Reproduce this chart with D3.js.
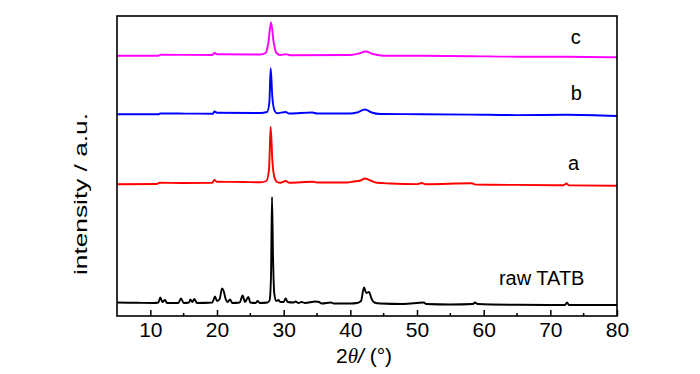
<!DOCTYPE html>
<html>
<head>
<meta charset="utf-8">
<script src="https://cdn.jsdelivr.net/npm/d3@7"></script>
<style>
  body { margin: 0; background: #fff; }
  text { font-family: "Liberation Sans", Arial, sans-serif; }
</style>
</head>
<body>
<svg id="chart" width="700" height="374"></svg>
<script>
// 2theta (deg), intensity (a.u.), one array per pattern
const rawTATB = [
    [5, 13.5], [8, 13.2], [10.5, 13], [11.2, 13.5], [11.5, 18.5], [11.8, 14], [12.2, 16], [12.5, 13],
    [14.2, 13], [14.6, 17.5], [15.0, 13], [15.8, 13.5], [16.0, 16.5], [16.3, 14], [16.6, 17], [17.0, 13],
    [19.3, 13.5], [19.7, 19.5], [20.0, 15], [20.4, 17], [20.75, 27.5], [21.0, 25], [21.3, 17], [21.6, 14],
    [21.95, 16.5], [22.3, 13], [23.4, 13.5], [23.85, 20.5], [24.2, 14], [24.7, 19], [25.0, 13.5],
    [25.8, 13], [26.1, 15], [26.4, 13], [27.6, 13.5], [27.9, 16], [28.1, 40], [28.25, 119], [28.4, 60],
    [28.6, 22], [28.9, 15], [29.2, 16], [29.5, 14], [30.0, 14], [30.3, 17.5], [30.6, 14], [31.5, 13.5],
    [31.8, 14.5], [32.2, 13], [32.7, 14], [33.2, 13], [34.8, 14.5], [35.3, 14], [35.7, 12.5], [37.1, 13.5],
    [37.5, 12.5], [40.0, 12.5], [41.0, 13], [41.6, 15], [42.05, 28.5], [42.4, 23], [42.8, 24], [43.2, 17],
    [43.6, 13.5], [44.5, 12.5], [48, 12], [51.0, 13.5], [51.4, 12], [55, 11.5], [58.4, 12], [58.7, 13.5],
    [59.1, 12], [65, 11.2], [70, 11], [72.2, 11], [72.5, 13.5], [72.8, 11], [76, 11], [80, 11]
]
const sampleA = [
    [5, 12.7], [11.0, 13], [11.4, 14.3], [15, 14], [19.3, 14.2], [19.6, 17], [20.0, 15.3], [24, 15],
    [26.5, 14.7], [27.4, 16], [27.8, 27], [28.05, 70.3], [28.3, 37], [28.6, 20], [29.0, 15], [29.5, 14.2],
    [30.3, 16], [30.8, 14.3], [34.4, 15.2], [35, 14.5], [39.5, 14.5], [40.5, 15.5], [41.5, 16.5],
    [42.2, 18.5], [43, 16.5], [44, 14.2], [46, 13.5], [50, 12.9], [50.7, 14], [51.3, 12.8], [58.2, 13.7],
    [58.8, 12.4], [65, 12.1], [72.0, 11.8], [72.4, 13.5], [72.8, 11.6], [80, 11.3]
]
const sampleB = [
    [5, 12.7], [11.2, 12.7], [11.5, 13.5], [19.4, 13.3], [19.6, 15.5], [20, 14.3], [26.5, 14], [27.5, 15],
    [27.85, 24], [28.05, 58.7], [28.3, 30], [28.6, 17], [29, 13.8], [30.3, 15], [30.8, 13.5], [34.3, 14.5],
    [35, 13.5], [40, 13.5], [41, 14.5], [42.2, 17.5], [43.2, 14.5], [44.5, 13], [50.7, 12.8], [58.2, 12.4],
    [65, 11.9], [72.4, 12.2], [80, 11]
]
const sampleC = [
    [5, 12.3], [11.2, 12.3], [11.6, 13.3], [19.3, 13], [19.6, 15], [20.0, 13.8], [26.5, 13.5], [27.3, 15],
    [27.7, 25], [28.1, 45.7], [28.5, 26], [28.9, 15], [29.5, 13], [30.3, 13.8], [31, 12.8], [40, 13],
    [41.3, 14.5], [42.3, 16.5], [43.4, 14], [45, 12.3], [50.7, 12.2], [58.2, 11.8], [65, 11.3], [72.4, 11.3],
    [80, 10.7]
]

const seriesNames = ["raw TATB", "a", "b", "c"]
const seriesData = [rawTATB, sampleA, sampleB, sampleC]
const offsets = [0, 119, 189, 248]
const colors = ["#000000", "#ff0000", "#0000ff", "#ff00ff"]
const labelX = [68.7, 73.5, 73.9, 73.8]  // 2theta where each label is centred
const labelY = [31, 146, 216, 272]       // stacked intensity of each label baseline
const majorTicks = [10, 20, 30, 40, 50, 60, 70, 80]
const minorTicks = [15, 25, 35, 45, 55, 65, 75]

const margin = {top: 16, right: 83, bottom: 58, left: 117}
const width = 700
const height = 374

const x = d3.scaleLinear()
    .domain([5, 80])
    .range([margin.left, width - margin.right])

const y = d3.scaleLinear()
    .domain([0, 300])
    .range([height - margin.bottom, margin.top])

const svg = d3.select("svg#chart")

const line = d3.line()
    .x(d => x(d[0]))
    .y(d => y(d[1]))
    .curve(d3.curveMonotoneX)

svg.append("g")
    .attr("fill", "none")
    .attr("stroke-width", 1.9)
    .attr("stroke-linejoin", "round")
    .selectAll("path")
    .data(seriesData)
    .join("path")
    .attr("stroke", (d, i) => colors[i])
    .attr("d", (d, i) => line(d.map(p => [p[0], p[1] + offsets[i]])))

// bottom axis, ticks pointing inwards
const xAxis = g => g
    .attr("transform", `translate(0,${height - margin.bottom})`)
    .call(d3.axisBottom(x)
        .tickValues(majorTicks)
        .tickSizeInner(-6)
        .tickSizeOuter(0)
        .tickPadding(6))
    .call(g => g.select(".domain").remove())
    .call(g => g.selectAll(".tick line").attr("stroke-width", 1.5))
    .call(g => g.selectAll(".tick text")
        .attr("font-family", "Liberation Sans, Arial, sans-serif")
        .attr("font-size", 21)
        .attr("fill", "#000"))

svg.append("g").call(xAxis)

svg.append("g")
    .attr("stroke", "#000")
    .attr("stroke-width", 1.5)
    .selectAll("line")
    .data(minorTicks)
    .join("line")
    .attr("x1", d => x(d))
    .attr("x2", d => x(d))
    .attr("y1", height - margin.bottom)
    .attr("y2", height - margin.bottom - 3)

svg.append("rect")
    .attr("x", margin.left)
    .attr("y", margin.top)
    .attr("width", width - margin.left - margin.right)
    .attr("height", height - margin.top - margin.bottom)
    .attr("fill", "none")
    .attr("stroke", "#000")
    .attr("stroke-width", 1.6)

svg.append("g")
    .selectAll("text")
    .data(seriesNames)
    .join("text")
    .attr("x", (d, i) => x(labelX[i]))
    .attr("y", (d, i) => y(labelY[i]))
    .attr("text-anchor", "middle")
    .attr("font-size", 20)
    .text(d => d)

const xTitle = svg.append("text")
    .attr("x", 364)
    .attr("y", 363)
    .attr("text-anchor", "middle")
    .attr("font-size", 21)
xTitle.append("tspan").text("2")
xTitle.append("tspan")
    .attr("font-family", "Liberation Serif, Times New Roman, serif")
    .attr("font-style", "italic")
    .text("θ")
xTitle.append("tspan")
    .attr("font-style", "italic")
    .text("/")
xTitle.append("tspan").text(" (°)")

svg.append("text")
    .attr("transform", "translate(87,194) rotate(-90)")
    .attr("text-anchor", "middle")
    .attr("font-size", 19)
    .attr("textLength", 162)
    .attr("lengthAdjust", "spacingAndGlyphs")
    .text("intensity / a.u.")
</script>
</body>
</html>
